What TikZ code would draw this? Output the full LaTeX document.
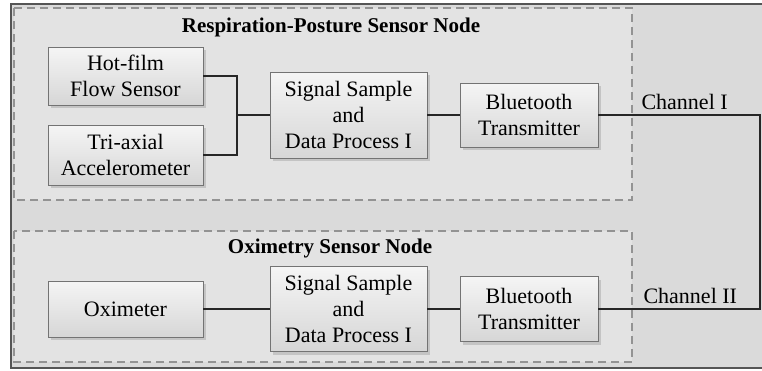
\documentclass[tikz,border=0pt]{standalone}
\usepackage{fontspec}
\setmainfont{Liberation Serif}
\usetikzlibrary{shadows}
\definecolor{panelgray}{HTML}{DADADA}
\definecolor{nodegray}{HTML}{E3E3E3}
\definecolor{framegray}{HTML}{555555}
\tikzset{
  unit/.style={draw=gray!90!black, top color=gray!8, bottom color=gray!32,
    drop shadow={shadow xshift=3pt, shadow yshift=-3pt, fill=gray!70},
    align=center, inner sep=2pt, font=\fontsize{22}{26}\selectfont},
  nodebox/.style={draw=gray!85, dash pattern=on 8pt off 5pt, line width=1.3pt, fill=nodegray},
  wire/.style={line width=2pt, black!85},
  title/.style={font=\fontsize{21}{25}\selectfont\bfseries},
  chan/.style={anchor=west, font=\fontsize{22}{26}\selectfont}
}
\begin{document}
\begin{tikzpicture}[x=1pt, y=-1pt]
    \useasboundingbox (0,0) rectangle (762,370);
    % Gray background and frame
    \fill[panelgray] (11,4) rectangle (762,368);
    \draw[framegray, line width=2.5pt] (762,4) -- (11,4) -- (11,368) -- (762,368);
    % Dashed sensor node boxes
    \draw[nodebox] (14,8) rectangle (632,200);
    \draw[nodebox] (14,231) rectangle (632,362);
    \node[title] (rptitle) at (331,27) {Respiration-Posture Sensor Node};
    \node[title] (oxtitle) at (330,248) {Oximetry Sensor Node};
    % Respiration-posture units
    \node[unit, minimum width=155pt, minimum height=58pt] (hot) at (125.5,76) {Hot-film\\Flow Sensor};
    \node[unit, minimum width=155pt, minimum height=60pt] (tri) at (125.5,155) {Tri-axial\\Accelerometer};
    \node[unit, minimum width=157pt, minimum height=86pt] (sig1) at (348.5,115) {Signal Sample\\and\\Data Process I};
    \node[unit, minimum width=138pt, minimum height=64pt] (bt1) at (529,115) {Bluetooth\\Transmitter};
    % Oximetry units
    \node[unit, minimum width=155pt, minimum height=56pt] (oxi) at (125.5,309) {Oximeter};
    \node[unit, minimum width=157pt, minimum height=85pt] (sig2) at (348.5,309) {Signal Sample\\and\\Data Process I};
    \node[unit, minimum width=138pt, minimum height=65pt] (bt2) at (529,309) {Bluetooth\\Transmitter};
    % Wires
    \coordinate (jn) at (237,115);
    \coordinate (c1) at (760,115);
    \coordinate (c2) at (760,309);
    \draw[wire] (hot.east) -| (jn) |- (tri.east);
    \draw[wire] (jn) -- (sig1.west);
    \draw[wire] (sig1.east) -- (bt1.west);
    \draw[wire] (oxi.east) -- (sig2.west);
    \draw[wire] (sig2.east) -- (bt2.west);
    \draw[wire] (bt1.east) -- (c1) -- (c2) -- (bt2.east);
    % Channel labels
    \node[chan] (ch1) at (638,102) {Channel I};
    \node[chan] (ch2) at (640,296) {Channel II};
\end{tikzpicture}
\end{document}
